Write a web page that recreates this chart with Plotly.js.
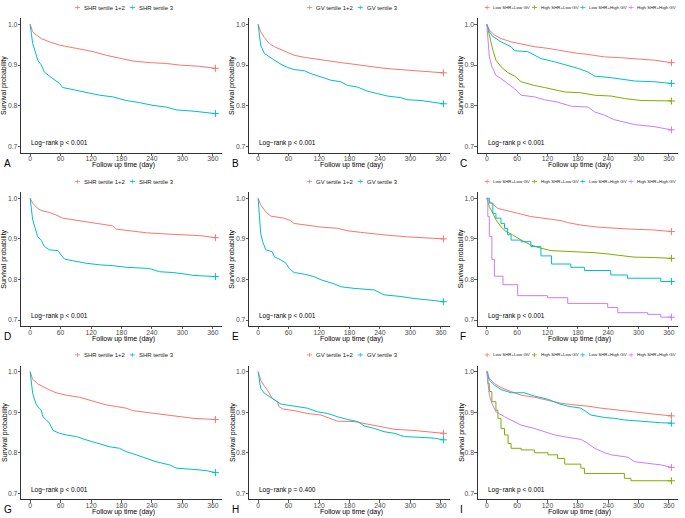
<!DOCTYPE html>
<html><head><meta charset="utf-8">
<script src="https://cdn.plot.ly/plotly-3.0.1.min.js"></script>
<style>html,body{margin:0;padding:0;background:#fff}#chart{width:685px;height:518px}</style>
</head><body><div id="chart"></div>
<script>
// ---------------- DATA (days, survival probability) ----------------
const xTicks = [0, 60, 120, 180, 240, 300, 360];
const yTicks = [0.7, 0.8, 0.9, 1.0];
const yTickText = ['0.7', '0.8', '0.9', '1.0'];

const namesSHR = ['SHR tertile 1+2', 'SHR tertile 3'];
const namesGV = ['GV tertile 1+2', 'GV tertile 3'];
const namesCombo = ['Low SHR+Low GV', 'High SHR+Low GV', 'Low SHR+High GV', 'High SHR+High GV'];
const pTexts = ['Log−rank p < 0.001', 'Log−rank p < 0.001', 'Log−rank p < 0.001',
                'Log−rank p < 0.001', 'Log−rank p < 0.001', 'Log−rank p < 0.001',
                'Log−rank p < 0.001', 'Log−rank p = 0.400', 'Log−rank p < 0.001'];
const letters = ['A', 'B', 'C', 'D', 'E', 'F', 'G', 'H', 'I'];

// Panel A
const tA1 = [0, 2, 5, 12, 22, 38, 58, 91, 124, 150, 183, 202, 235, 268, 294, 334, 365];
const sA1 = [1, .99, .982, .974, .965, .957, .949, .941, .933, .924, .916, .910, .906, .904, .900, .897, .892];
const tA2 = [0, 2, 5, 11, 15, 22, 28, 38, 48, 58, 64, 84, 110, 137, 163, 189, 215, 242, 268, 288, 321, 347, 365];
const sA2 = [1, .978, .953, .929, .912, .900, .883, .873, .863, .855, .845, .840, .834, .826, .822, .813, .808, .801, .797, .790, .787, .784, .781];
// Panel B
const tB1 = [0, 5, 12, 22, 32, 45, 58, 71, 91, 117, 137, 163, 189, 215, 242, 268, 307, 340, 365];
const sB1 = [1, .982, .968, .953, .945, .938, .931, .924, .919, .914, .910, .906, .902, .897, .893, .890, .886, .884, .881];
const tB2 = [0, 3, 5, 12, 22, 32, 45, 58, 71, 91, 104, 124, 143, 163, 176, 196, 215, 235, 255, 281, 294, 321, 347, 365];
const sB2 = [1, .970, .949, .929, .920, .912, .902, .894, .889, .886, .879, .871, .863, .859, .850, .846, .836, .830, .824, .820, .815, .813, .809, .805];
// Panel C
const tC1 = [0, 5, 15, 28, 48, 68, 94, 121, 147, 173, 200, 233, 266, 299, 331, 365];
const sC1 = [1, .986, .974, .965, .957, .951, .945, .941, .935, .930, .926, .920, .918, .915, .912, .906];
const tC2 = [0, 5, 12, 18, 28, 42, 55, 68, 94, 114, 134, 154, 186, 213, 246, 272, 305, 365];
const sC2 = [1, .970, .937, .912, .896, .881, .873, .859, .850, .845, .840, .834, .832, .826, .824, .818, .813, .812];
const tC3 = [0, 5, 12, 28, 48, 55, 81, 94, 107, 134, 160, 180, 200, 213, 246, 266, 292, 331, 365];
const sC3 = [1, .982, .970, .957, .945, .935, .933, .924, .916, .908, .900, .892, .883, .873, .869, .865, .861, .859, .855];
const tC4 = [0, 2, 5, 10, 18, 28, 42, 55, 68, 94, 114, 140, 167, 200, 213, 233, 252, 272, 292, 331, 365];
const sC4 = [1, .961, .920, .896, .875, .867, .855, .842, .826, .822, .815, .809, .799, .797, .785, .777, .766, .760, .754, .749, .741];
// Panel D
const tD1 = [0, 5, 15, 22, 38, 51, 64, 84, 110, 137, 163, 170, 202, 229, 268, 294, 334, 365];
const sD1 = [1, .988, .975, .970, .965, .959, .951, .947, .942, .937, .932, .924, .919, .915, .912, .910, .908, .903];
const tD2 = [0, 3, 5, 11, 15, 22, 28, 38, 55, 61, 68, 84, 110, 137, 163, 189, 235, 255, 281, 307, 321, 365];
const sD2 = [1, .971, .947, .922, .905, .896, .881, .873, .871, .860, .850, .846, .840, .836, .834, .830, .827, .819, .817, .813, .810, .807];
// Panel E
const tE1 = [0, 5, 15, 25, 51, 64, 71, 97, 124, 156, 176, 202, 229, 255, 294, 334, 365];
const sE1 = [1, .984, .967, .956, .951, .945, .938, .934, .929, .926, .920, .916, .912, .909, .905, .903, .900];
const tE2 = [0, 3, 5, 9, 15, 28, 32, 45, 55, 61, 71, 91, 110, 124, 150, 163, 189, 229, 248, 281, 307, 347, 365];
const sE2 = [1, .955, .914, .893, .873, .868, .856, .848, .840, .827, .817, .813, .807, .799, .789, .782, .778, .774, .762, .758, .753, .748, .745];
// Panel F
const tF1 = [0, 9, 22, 41, 61, 87, 114, 147, 160, 186, 219, 252, 284, 330, 365];
const sF1 = [1, .988, .975, .970, .963, .955, .951, .945, .940, .934, .929, .926, .924, .922, .918];
const tF2 = [0, 5, 12, 18, 28, 38, 51, 68, 87, 107, 127, 166, 212, 238, 278, 291, 330, 365];
const sF2 = [1, .979, .963, .947, .930, .918, .910, .897, .885, .877, .871, .869, .866, .863, .858, .855, .854, .852];
const tF3 = [0, 5, 12, 18, 28, 35, 41, 48, 68, 87, 107, 128, 166, 193, 245, 278, 344, 365];
const sF3 = [1, .988, .963, .951, .938, .926, .910, .897, .893, .881, .858, .838, .830, .822, .811, .803, .795, .795];
const tF4 = [0, 2, 5, 10, 15, 32, 61, 120, 160, 239, 259, 318, 344, 365];
const sF4 = [1, .955, .906, .849, .808, .787, .760, .755, .741, .731, .718, .714, .707, .707];
// Panel G
const tG1 = [0, 5, 15, 25, 38, 51, 71, 97, 117, 137, 150, 170, 189, 202, 229, 255, 281, 321, 365];
const sG1 = [1, .981, .970, .963, .955, .948, .942, .937, .930, .924, .918, .914, .910, .904, .900, .896, .891, .885, .882];
const tG2 = [0, 3, 5, 11, 15, 22, 25, 32, 38, 45, 58, 71, 91, 110, 137, 156, 176, 189, 209, 229, 248, 275, 288, 321, 347, 365];
const sG2 = [1, .971, .947, .922, .914, .905, .889, .881, .873, .855, .848, .844, .840, .832, .823, .815, .811, .803, .795, .786, .778, .770, .762, .759, .756, .751];
// Panel H
const tH1 = [0, 5, 12, 18, 28, 38, 41, 48, 71, 97, 124, 143, 156, 189, 215, 242, 268, 307, 334, 365];
const sH1 = [1, .979, .965, .955, .934, .926, .914, .908, .904, .897, .893, .885, .878, .877, .871, .864, .858, .855, .852, .848];
const tH2 = [0, 3, 5, 12, 22, 35, 45, 71, 97, 117, 137, 156, 176, 196, 209, 229, 248, 268, 288, 321, 347, 365];
const sH2 = [1, .975, .959, .947, .938, .928, .920, .915, .910, .901, .897, .889, .882, .877, .866, .860, .852, .848, .840, .838, .836, .832];
// Panel I
const tI1 = [0, 5, 15, 28, 48, 68, 94, 121, 147, 173, 200, 226, 252, 285, 318, 365];
const sI1 = [1, .984, .971, .961, .951, .942, .937, .929, .922, .918, .915, .910, .906, .901, .897, .891];
const tI2 = [0, 2, 5, 10, 18, 22, 28, 35, 42, 48, 68, 94, 121, 140, 154, 186, 193, 272, 285, 365];
const sI2 = [1, .971, .951, .926, .905, .885, .860, .844, .823, .811, .807, .800, .795, .786, .772, .762, .749, .737, .731, .731];
const tI3 = [0, 5, 15, 28, 48, 74, 94, 121, 140, 160, 186, 206, 233, 252, 272, 305, 345, 365];
const sI3 = [1, .979, .967, .956, .948, .948, .940, .932, .922, .915, .910, .893, .887, .885, .881, .877, .874, .873];
const tI4 = [0, 2, 5, 10, 18, 35, 55, 68, 94, 114, 134, 160, 186, 200, 213, 233, 246, 279, 292, 331, 345, 365];
const sI4 = [1, .971, .942, .922, .901, .889, .877, .868, .860, .852, .844, .838, .833, .823, .811, .800, .795, .789, .778, .772, .770, .764];

// ---------------- STYLE / LAYOUT ----------------
const col2 = ['#F8766D', '#00BFC4'];
const col4 = ['#F8766D', '#7CAE00', '#00BFC4', '#C77CFF'];
const W = 685, H = 518;
const FONT = '"Liberation Sans", Arial, Helvetica, sans-serif';
const colLeft = [21, 249, 477.7], colRight = [222, 450, 678];
const rowTop = [18.2, 192.2, 365.6], rowBottom = [152.7, 326.1, 499.4];
const px = x => x / W, py = y => 1 - y / H;

const panels = [
  {names: namesSHR, colors: col2, series: [[tA1, sA1], [tA2, sA2]]},
  {names: namesGV, colors: col2, series: [[tB1, sB1], [tB2, sB2]]},
  {names: namesCombo, colors: col4, series: [[tC1, sC1], [tC2, sC2], [tC3, sC3], [tC4, sC4]]},
  {names: namesSHR, colors: col2, series: [[tD1, sD1], [tD2, sD2]]},
  {names: namesGV, colors: col2, series: [[tE1, sE1], [tE2, sE2]]},
  {names: namesCombo, colors: col4, series: [[tF1, sF1], [tF2, sF2], [tF3, sF3], [tF4, sF4]], step: [false, false, true, true]},
  {names: namesSHR, colors: col2, series: [[tG1, sG1], [tG2, sG2]]},
  {names: namesGV, colors: col2, series: [[tH1, sH1], [tH2, sH2]]},
  {names: namesCombo, colors: col4, series: [[tI1, sI1], [tI2, sI2], [tI3, sI3], [tI4, sI4]], step: [false, true, false, false]}
];

const ctx = document.createElement('canvas').getContext('2d');
function measure(text, fs) { ctx.font = fs + 'px ' + FONT; return ctx.measureText(text).width; }

const traces = [];
const layout = {
  width: W, height: H, margin: {l: 0, r: 0, t: 0, b: 0},
  paper_bgcolor: '#fff', plot_bgcolor: '#fff', showlegend: false,
  font: {family: FONT, color: '#000'},
  annotations: [], shapes: []
};

panels.forEach((p, i) => {
  const c = i % 3, r = Math.floor(i / 3);
  const L = colLeft[c], R = colRight[c], T = rowTop[r], B = rowBottom[r];
  const xa = i === 0 ? 'x' : 'x' + (i + 1);
  const ya = i === 0 ? 'y' : 'y' + (i + 1);
  const xk = i === 0 ? 'xaxis' : 'xaxis' + (i + 1);
  const yk = i === 0 ? 'yaxis' : 'yaxis' + (i + 1);
  const axisCommon = {
    showline: true, linecolor: '#000', linewidth: 0.8, ticks: 'outside', ticklen: 2.5,
    tickwidth: 0.8, tickcolor: '#333', tickfont: {size: 6.8, color: '#4D4D4D'},
    showgrid: false, zeroline: false, fixedrange: true
  };
  layout[xk] = Object.assign({}, axisCommon, {
    domain: [px(L), px(R)], range: [-18, 378], tickvals: xTicks, anchor: ya, ticklabelstandoff: -3
  });
  layout[yk] = Object.assign({}, axisCommon, {
    domain: [py(B), py(T)], range: [0.685, 1.015], tickvals: yTicks, ticktext: yTickText, anchor: xa, ticklabelstandoff: -1
  });

  p.series.forEach((sr, k) => {
    const [t, s] = sr;
    const color = p.colors[k];
    const step = p.step ? p.step[k] : false;
    traces.push({x: t, y: s, xaxis: xa, yaxis: ya, mode: 'lines', hoverinfo: 'skip',
      line: {color: color, width: 1, shape: step ? 'hv' : 'linear'}});
    traces.push({x: [t[t.length - 1]], y: [s[s.length - 1]], xaxis: xa, yaxis: ya, mode: 'markers', hoverinfo: 'skip',
      marker: {symbol: 'cross-thin-open', size: 5, color: color, line: {color: color, width: 1}}});
  });

  // axis titles, panel letter, p-value
  layout.annotations.push({xref: 'paper', yref: 'paper', x: px((L + R) / 2 + 2), y: py(B + 12.5), text: 'Follow up time (day)',
    showarrow: false, xanchor: 'center', yanchor: 'middle', borderpad: 0, font: {size: 7, color: '#000'}});
  layout.annotations.push({xref: 'paper', yref: 'paper', x: px(L - 16.5), y: py((T + B) / 2), text: 'Survival probability',
    textangle: -90, showarrow: false, xanchor: 'center', yanchor: 'middle', borderpad: 0, font: {size: 7, color: '#000'}});
  layout.annotations.push({xref: 'paper', yref: 'paper', x: px(L - 19.5), y: py(B + 10.5), text: letters[i],
    showarrow: false, xanchor: 'left', yanchor: 'middle', font: {size: 10, color: '#000'}});
  layout.annotations.push({xref: xa, yref: ya, x: 0, y: 0.709, text: pTexts[i],
    showarrow: false, xanchor: 'left', yanchor: 'middle', font: {size: 6.5, color: '#000'}, borderpad: 0});

  // custom legend
  const four = p.names.length === 4;
  const fs = four ? 4.4 : 6;
  const kw = 5, kt = four ? 5.3 : 5.7, gap = four ? 5.3 : 8.3;
  const widths = p.names.map(n => measure(n, fs));
  const total = kw / 2 + widths.reduce((a, w) => a + kt + w, 0) + (p.names.length - 1) * gap;
  const cx = (L + R) / 2 + 2;
  const ly = T - 10.7;
  let cur = cx - total / 2 + kw / 2;
  p.names.forEach((n, k) => {
    const color = p.colors[k];
    layout.shapes.push({type: 'line', xref: 'paper', yref: 'paper', x0: px(cur - kw / 2), x1: px(cur + kw / 2), y0: py(ly), y1: py(ly),
      line: {color: color, width: 0.8}});
    layout.shapes.push({type: 'line', xref: 'paper', yref: 'paper', x0: px(cur), x1: px(cur), y0: py(ly - 2), y1: py(ly + 2),
      line: {color: color, width: 0.8}});
    layout.annotations.push({xref: 'paper', yref: 'paper', x: px(cur + kt), y: py(ly), text: n, showarrow: false,
      xanchor: 'left', yanchor: 'middle', borderpad: 0, font: {size: fs, color: '#222'}});
    cur += kt + widths[k] + gap;
  });
});

Plotly.newPlot('chart', traces, layout, {staticPlot: true, displayModeBar: false});
</script>
</body></html>
